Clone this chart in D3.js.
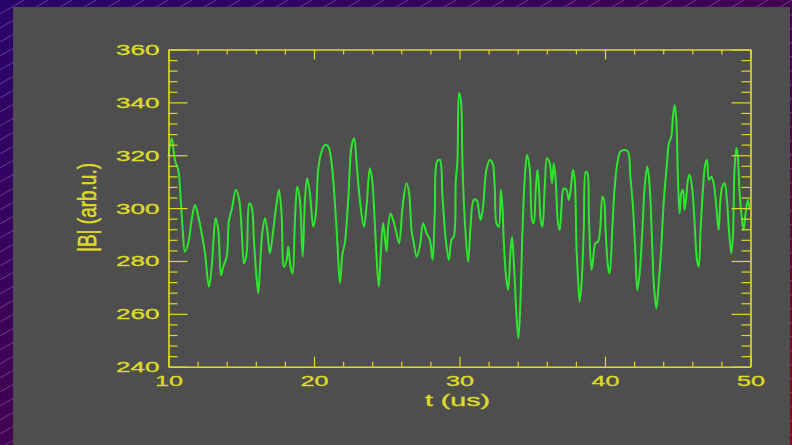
<!DOCTYPE html>
<html>
<head>
<meta charset="utf-8">
<script src="https://cdn.jsdelivr.net/npm/d3@7"></script>
<style>
  html, body { margin: 0; padding: 0; background: #2a0a5a; }
  svg { display: block; }
  text { font-family: "Liberation Sans", Arial, sans-serif; fill: #dcdc26; stroke: #dcdc26; stroke-width: 0.35px; }
</style>
</head>
<body>
<svg id="chart" width="792" height="445"></svg>
<script>
// |B| trace, time in us
const tVals = [10.00, 10.22, 10.45, 10.67, 10.84, 10.98, 11.13, 11.36, 11.59, 11.82,
  12.05, 12.28, 12.51, 12.78, 12.97, 13.08, 13.24, 13.42, 13.61, 13.76,
  14.00, 14.16, 14.34, 14.64, 14.86, 15.03, 15.19, 15.37, 15.55, 15.71,
  15.87, 16.01, 16.17, 16.28, 16.44, 16.63, 16.81, 16.97, 17.20, 17.43,
  17.59, 17.77, 17.93, 18.12, 18.23, 18.39, 18.53, 18.69, 18.85, 19.03,
  19.22, 19.38, 19.53, 19.72, 19.95, 20.13, 20.29, 20.52, 20.75, 20.98,
  21.21, 21.44, 21.62, 21.78, 21.96, 22.12, 22.35, 22.58, 22.76, 22.93,
  23.15, 23.43, 23.61, 23.84, 24.00, 24.18, 24.34, 24.46, 24.59, 24.75,
  24.87, 24.99, 25.10, 25.26, 25.44, 25.67, 25.85, 26.09, 26.36, 26.54,
  26.70, 26.86, 27.05, 27.27, 27.50, 27.73, 27.96, 28.15, 28.30, 28.46,
  28.65, 28.83, 29.06, 29.27, 29.45, 29.61, 29.75, 29.86, 29.97, 30.09,
  30.21, 30.36, 30.59, 30.76, 30.98, 31.17, 31.35, 31.46, 31.62, 31.85,
  32.08, 32.27, 32.42, 32.54, 32.70, 32.84, 32.95, 33.04, 33.18, 33.34,
  33.50, 33.61, 33.75, 33.91, 34.05, 34.19, 34.33, 34.48, 34.64, 34.83,
  34.99, 35.10, 35.24, 35.36, 35.47, 35.58, 35.70, 35.86, 36.02, 36.20,
  36.36, 36.48, 36.61, 36.77, 36.89, 37.01, 37.16, 37.35, 37.51, 37.64,
  37.80, 37.92, 38.04, 38.15, 38.26, 38.40, 38.54, 38.68, 38.79, 38.90,
  39.07, 39.18, 39.34, 39.52, 39.68, 39.82, 39.93, 40.05, 40.21, 40.32,
  40.51, 40.67, 40.85, 41.06, 41.35, 41.58, 41.74, 41.92, 42.09, 42.22,
  42.38, 42.57, 42.73, 42.91, 43.07, 43.23, 43.37, 43.53, 43.71, 43.87,
  44.03, 44.22, 44.40, 44.56, 44.67, 44.79, 44.90, 45.01, 45.13, 45.24,
  45.36, 45.47, 45.59, 45.70, 45.82, 46.00, 46.16, 46.32, 46.44, 46.57,
  46.73, 46.90, 47.01, 47.14, 47.31, 47.47, 47.65, 47.81, 47.93, 48.06,
  48.22, 48.38, 48.52, 48.68, 48.79, 48.91, 49.03, 49.13, 49.25, 49.37,
  49.52, 49.66, 49.82, 49.94];

const bVals = [319.5, 326.4, 318.0, 314.4, 303.0, 291.7, 283.5, 286.7, 295.5, 301.2,
  296.8, 290.5, 282.9, 270.3, 277.8, 286.7, 296.2, 291.7, 274.7, 277.8,
  281.6, 295.5, 299.3, 306.9, 303.1, 291.7, 279.1, 282.9, 301.8, 300.6,
  288.0, 276.6, 267.8, 276.6, 290.5, 296.2, 290.5, 282.9, 291.7, 301.8,
  306.9, 298.0, 277.8, 280.4, 285.4, 277.8, 275.3, 295.5, 308.1, 303.1,
  281.6, 303.1, 311.3, 305.6, 293.0, 298.0, 314.5, 321.4, 323.9, 323.3,
  317.0, 301.8, 285.4, 271.6, 282.9, 286.7, 303.1, 323.3, 326.4, 317.0,
  303.1, 293.0, 300.6, 315.1, 310.7, 294.3, 277.8, 270.3, 282.9, 294.3,
  289.2, 283.5, 293.0, 298.0, 295.5, 290.5, 286.7, 300.6, 309.4, 305.6,
  291.7, 286.7, 281.6, 285.4, 294.3, 290.5, 288.0, 280.4, 298.0, 317.6,
  318.2, 304.3, 288.0, 280.4, 288.0, 289.2, 310.7, 318.2, 343.5, 341.0,
  315.7, 295.5, 279.7, 293.0, 303.1, 303.1, 298.0, 295.5, 300.6, 314.5,
  318.2, 317.0, 308.1, 294.3, 293.0, 306.9, 300.6, 288.0, 275.3, 269.0,
  282.9, 289.2, 277.8, 260.2, 250.7, 265.2, 291.7, 310.7, 320.1, 314.5,
  295.5, 294.3, 306.9, 314.5, 306.9, 295.5, 293.0, 308.1, 318.9, 317.0,
  309.4, 317.0, 310.7, 294.3, 291.7, 300.6, 307.5, 306.9, 303.1, 306.9,
  314.5, 310.7, 285.4, 272.8, 264.6, 272.8, 291.7, 313.8, 313.2, 295.5,
  276.6, 280.4, 286.7, 287.3, 293.0, 304.3, 303.1, 290.5, 277.8, 275.3,
  293.0, 308.1, 317.0, 321.4, 322.0, 321.4, 311.9, 300.6, 282.9, 269.0,
  275.3, 291.7, 308.1, 315.7, 308.1, 288.0, 270.3, 262.1, 272.8, 285.4,
  301.8, 314.5, 324.6, 327.1, 334.6, 339.0, 333.4, 311.9, 298.0, 305.6,
  306.9, 299.3, 304.3, 310.7, 312.6, 306.9, 294.3, 280.4, 277.8, 291.7,
  306.9, 317.0, 318.2, 310.7, 311.9, 309.4, 300.6, 291.7, 303.1, 308.1,
  309.4, 303.1, 291.7, 282.9, 289.2, 315.7, 322.7, 319.5, 305.6, 298.0,
  291.7, 298.0, 303.1, 299.3];

const xMajor = [10, 20, 30, 40, 50];
const xMinor = d3.range(10, 51, 2).filter(v => v % 10 !== 0);
const yMajor = [240, 260, 280, 300, 320, 340, 360];
const yMinor = d3.range(240, 361, 4).filter(v => v % 20 !== 0);

const xLabel = "t (us)";
const yLabel = "|B| (arb.u.)";

const yellow = "#dcdc26";
const green = "#2ee62e";

const svg = d3.select("#chart");

// striped purple-to-red backdrop
const defs = svg.append("defs");
const grad = defs.append("linearGradient")
  .attr("id", "bg-grad")
  .attr("x1", "0").attr("y1", "0").attr("x2", "1").attr("y2", "1");
grad.append("stop").attr("offset", "0%").attr("stop-color", "#28046a");
grad.append("stop").attr("offset", "55%").attr("stop-color", "#44024e");
grad.append("stop").attr("offset", "100%").attr("stop-color", "#8a0418");

const pat = defs.append("pattern")
  .attr("id", "stripes")
  .attr("patternUnits", "userSpaceOnUse")
  .attr("width", 24).attr("height", 14);
pat.append("line")
  .attr("x1", 0).attr("y1", 14).attr("x2", 24).attr("y2", 0)
  .attr("stroke", "rgba(230,150,255,0.35)")
  .attr("stroke-width", 1);

svg.append("rect").attr("width", 792).attr("height", 445).attr("fill", "url(#bg-grad)");
svg.append("rect").attr("width", 792).attr("height", 445).attr("fill", "url(#stripes)");

// gray panel
svg.append("rect")
  .attr("x", 13).attr("y", 7)
  .attr("width", 777).attr("height", 440)
  .attr("fill", "#4e4e4e");

const x = d3.scaleLinear().domain([10, 50]).range([168.5, 750.5]);
const y = d3.scaleLinear().domain([240, 360]).range([366.7, 49.5]);

const plotTop = 49.5, plotBottom = 366.7, plotLeft = 168.5, plotRight = 750.5;

function styleAxis(g) {
  g.selectAll("path.domain").attr("stroke", yellow).attr("stroke-width", 1.6);
  g.selectAll(".tick line").attr("stroke", yellow).attr("stroke-width", 1.2);
}

// the data trace goes under the frame
const line = d3.line()
  .x((d, i) => x(tVals[i]))
  .y(d => y(d))
  .curve(d3.curveCatmullRom.alpha(0.5));

svg.append("path")
  .datum(bVals)
  .attr("fill", "none")
  .attr("stroke", green)
  .attr("stroke-width", 2)
  .attr("stroke-linejoin", "round")
  .attr("d", line);

// bottom axis with labels
const gx = svg.append("g")
  .attr("transform", `translate(0,${plotBottom})`)
  .call(d3.axisBottom(x).tickValues(xMajor).tickSizeInner(-10).tickSizeOuter(0)
    .tickPadding(8).tickFormat(d3.format("d")));
gx.selectAll("text")
  .attr("font-size", 15.5)
  .attr("fill", yellow)
  .attr("textLength", d => String(d).length * 14)
  .attr("lengthAdjust", "spacingAndGlyphs");
styleAxis(gx);

svg.append("g")
  .attr("transform", `translate(0,${plotBottom})`)
  .call(d3.axisBottom(x).tickValues(xMinor).tickSize(-5).tickFormat(""))
  .call(styleAxis)
  .select("path.domain").remove();

// top axis, ticks only
const gt = svg.append("g")
  .attr("transform", `translate(0,${plotTop})`)
  .call(d3.axisTop(x).tickValues(xMajor).tickSizeInner(-10).tickSizeOuter(0).tickFormat(""));
styleAxis(gt);
svg.append("g")
  .attr("transform", `translate(0,${plotTop})`)
  .call(d3.axisTop(x).tickValues(xMinor).tickSize(-5).tickFormat(""))
  .call(styleAxis)
  .select("path.domain").remove();

// left axis with labels
const gy = svg.append("g")
  .attr("transform", `translate(${plotLeft},0)`)
  .call(d3.axisLeft(y).tickValues(yMajor).tickSizeInner(-19).tickSizeOuter(0)
    .tickPadding(9).tickFormat(d3.format("d")));
gy.selectAll("text")
  .attr("font-size", 15.5)
  .attr("fill", yellow)
  .attr("textLength", d => String(d).length * 14.5)
  .attr("lengthAdjust", "spacingAndGlyphs");
styleAxis(gy);
svg.append("g")
  .attr("transform", `translate(${plotLeft},0)`)
  .call(d3.axisLeft(y).tickValues(yMinor).tickSize(-9).tickFormat(""))
  .call(styleAxis)
  .select("path.domain").remove();

// right axis, ticks only
const gr = svg.append("g")
  .attr("transform", `translate(${plotRight},0)`)
  .call(d3.axisRight(y).tickValues(yMajor).tickSizeInner(-19).tickSizeOuter(0).tickFormat(""));
styleAxis(gr);
svg.append("g")
  .attr("transform", `translate(${plotRight},0)`)
  .call(d3.axisRight(y).tickValues(yMinor).tickSize(-9).tickFormat(""))
  .call(styleAxis)
  .select("path.domain").remove();

// axis titles
svg.append("text")
  .attr("x", (plotLeft + plotRight) / 2 - 2)
  .attr("y", 405.5)
  .attr("text-anchor", "middle")
  .attr("font-size", 16)
  .attr("textLength", 65)
  .attr("lengthAdjust", "spacingAndGlyphs")
  .attr("fill", yellow)
  .text(xLabel);

svg.append("text")
  .attr("transform", "translate(96,207.5) scale(1.6,1) rotate(-90)")
  .attr("text-anchor", "middle")
  .attr("font-size", 16)
  .attr("textLength", 89)
  .attr("lengthAdjust", "spacingAndGlyphs")
  .attr("fill", yellow)
  .text(yLabel);
</script>
</body>
</html>
